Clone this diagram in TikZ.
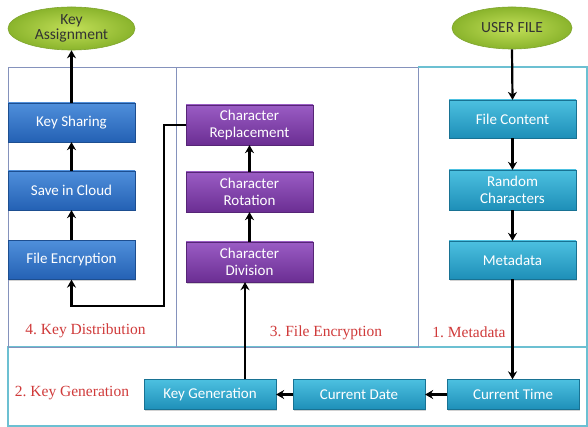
\documentclass[tikz,border=0pt]{standalone}
\usepackage{fontspec}
\newfontfamily\bx{Carlito}
\newfontfamily\lbl{Liberation Serif}
\usetikzlibrary{arrows.meta,shadows,shapes.geometric}
\definecolor{bluetop}{HTML}{4F8FDB}
\definecolor{bluebot}{HTML}{2461B4}
\definecolor{purtop}{HTML}{9A5CC4}
\definecolor{purbot}{HTML}{6B2E93}
\definecolor{teatop}{HTML}{4CC0E0}
\definecolor{teabot}{HTML}{1E8FB8}
\definecolor{grin}{HTML}{C2DF58}
\definecolor{grout}{HTML}{8AB42C}
\definecolor{grline}{HTML}{7FA52E}
\definecolor{panelc}{HTML}{8592BC}
\definecolor{panelb}{HTML}{6CC0D2}
\definecolor{lblred}{HTML}{D03A3A}
\frenchspacing
\tikzset{
  boxbase/.style={rectangle, text=white, font=\bx\fontsize{15}{16.5}\selectfont, align=center, inner sep=1pt,
    drop shadow={shadow xshift=1pt, shadow yshift=-1.5pt, opacity=0.35}},
  bluebox/.style={boxbase, top color=bluetop, bottom color=bluebot, draw=bluebot!80!black, line width=0.3pt, minimum width=127pt, minimum height=39pt},
  purbox/.style={boxbase, top color=purtop, bottom color=purbot, draw=purbot!80!black, line width=0.3pt, minimum width=127pt, minimum height=40pt},
  teabox/.style={boxbase, top color=teatop, bottom color=teabot, draw=teabot!80!black, line width=0.3pt, minimum width=127pt, minimum height=38pt},
  ellnode/.style={ellipse, inner color=grin, outer color=grout, draw=grline, line width=0.6pt, text=black!80, font=\bx\fontsize{15.5}{16.5}\selectfont, align=center, inner sep=0pt},
  arr/.style={-{Stealth[length=8pt,width=9pt]}, line width=2.2pt, black},
  panel/.style={draw=panelc, line width=0.9pt},
  panelbot/.style={draw=panelb, line width=1.1pt},
  sectlbl/.style={text=lblred, font=\lbl\fontsize{15.5}{17}\selectfont, inner sep=0pt}
}
\begin{document}
\begin{tikzpicture}[x=1pt,y=-1pt]
\useasboundingbox (0,0) rectangle (588,427);
\fill[white] (0,0) rectangle (588,427);
% panels
\draw[panelbot] (8,347) rectangle (587,426);
\draw[panel] (8,67) rectangle (176,347);
\draw[panel] (176,67) rectangle (418,347);
\draw[panel] (418,347) -- (418,67);
\draw[panelbot] (418,67) -- (587,67) -- (587,347);
% section labels
\node[sectlbl] (l4) at (85.5,331) {4. Key Distribution};
\node[sectlbl] (l3) at (326,333) {3. File Encryption};
\node[sectlbl] (l1) at (469,332) {1. Metadata};
\node[sectlbl] (l2) at (72,393) {2. Key Generation};
% ellipses
\node[ellnode, minimum width=127pt, minimum height=43pt] (ka) at (71.5,28.5) {Key\\[-2pt]Assignment};
\node[ellnode, minimum width=120pt, minimum height=42pt] (uf) at (512,28) {USER FILE};
% left column
\node[bluebox] (ks) at (71.5,122.5) {Key Sharing};
\node[bluebox] (sc) at (71.5,190.5) {Save in Cloud};
\node[bluebox] (fe) at (71.5,260) {File Encryption};
% middle column
\node[purbox] (cr) at (249.5,125) {Character\\Replacement};
\node[purbox] (cro) at (249.5,192) {Character\\Rotation};
\node[purbox] (cd) at (249.5,262) {Character\\Division};
% right column
\node[teabox] (fc) at (512.5,119) {File Content};
\node[teabox, minimum height=40pt] (rc) at (512.5,190) {Random\\Characters};
\node[teabox] (md) at (512.5,260) {Metadata};
% bottom row
\node[teabox, minimum width=132pt, minimum height=30pt] (kg) at (210,394.5) {Key Generation};
\node[teabox, minimum width=132pt, minimum height=30pt] (cdt) at (359,394.5) {Current Date};
\node[teabox, minimum width=132pt, minimum height=30pt] (ct) at (513,394.5) {Current Time};
\coordinate (bend) at (164,306);
% connectors
\draw[arr] (uf.south) -- (fc.north);
\draw[arr] (fc.south) -- (rc.north);
\draw[arr] (rc.south) -- (md.north);
\draw[arr] (md.south) -- (md.south |- ct.north);
\draw[arr] (ct.west) -- (cdt.east);
\draw[arr] (cdt.west) -- (kg.east);
\draw[arr] ([xshift=-4.5pt]cd.south |- kg.north) -- ([xshift=-4.5pt]cd.south);
\draw[arr] (cd.north) -- (cro.south);
\draw[arr] (cro.north) -- (cr.south);
\draw[arr] (cr.west) -| (bend) -| (fe.south);
\draw[arr] (fe.north) -- (sc.south);
\draw[arr] (sc.north) -- (ks.south);
\draw[arr] (ks.north) -- (ka.south);
\end{tikzpicture}
\end{document}
